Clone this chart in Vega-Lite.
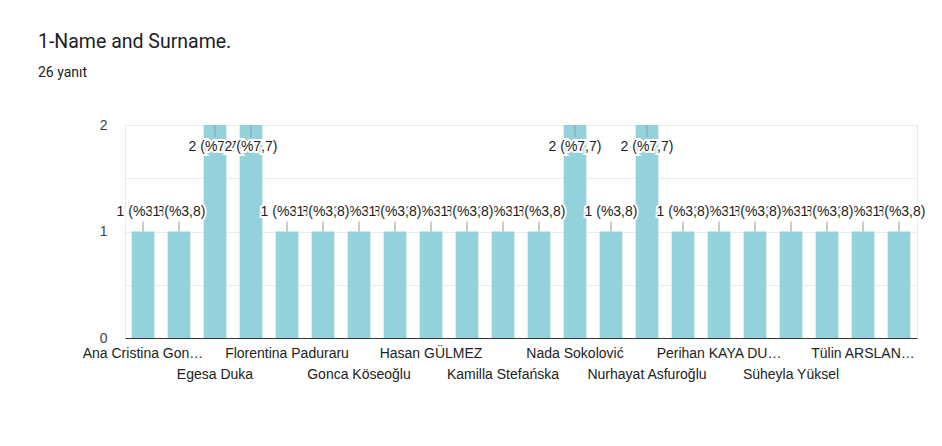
{
  "$schema": "https://vega.github.io/schema/vega-lite/v6.json",
  "autosize": {"type": "none"},
  "width": 792,
  "height": 213,
  "padding": {"left": 125, "top": 125, "right": 25, "bottom": 108},
  "background": "white",
  "title": {
    "text": "1-Name and Surname.",
    "subtitle": "26 yanıt",
    "anchor": "start",
    "frame": "group",
    "dx": -87,
    "offset": 37,
    "font": "Roboto",
    "fontSize": 19.5,
    "fontWeight": "normal",
    "color": "#202124",
    "subtitleFont": "Roboto",
    "subtitleFontSize": 14,
    "subtitleColor": "#202124",
    "subtitlePadding": 14
  },
  "config": {
    "view": {"stroke": "#ebebeb"}
  },
  "data": {
    "values": [
      {"name": "Ana Cristina Gon…", "count": 1, "label": "1 (%3,8)"},
      {"name": "Katılımcı 2", "count": 1, "label": "1 (%3,8)"},
      {"name": "Egesa Duka", "count": 2, "label": "2 (%7,7)"},
      {"name": "Katılımcı 4", "count": 2, "label": "2 (%7,7)"},
      {"name": "Florentina Paduraru", "count": 1, "label": "1 (%3,8)"},
      {"name": "Katılımcı 6", "count": 1, "label": "1 (%3,8)"},
      {"name": "Gonca Köseoğlu", "count": 1, "label": "1 (%3,8)"},
      {"name": "Katılımcı 8", "count": 1, "label": "1 (%3,8)"},
      {"name": "Hasan GÜLMEZ", "count": 1, "label": "1 (%3,8)"},
      {"name": "Katılımcı 10", "count": 1, "label": "1 (%3,8)"},
      {"name": "Kamilla Stefańska", "count": 1, "label": "1 (%3,8)"},
      {"name": "Katılımcı 12", "count": 1, "label": "1 (%3,8)"},
      {"name": "Nada Sokolović", "count": 2, "label": "2 (%7,7)"},
      {"name": "Katılımcı 14", "count": 1, "label": "1 (%3,8)"},
      {"name": "Nurhayat Asfuroğlu", "count": 2, "label": "2 (%7,7)"},
      {"name": "Katılımcı 16", "count": 1, "label": "1 (%3,8)"},
      {"name": "Perihan KAYA DU…", "count": 1, "label": "1 (%3,8)"},
      {"name": "Katılımcı 18", "count": 1, "label": "1 (%3,8)"},
      {"name": "Süheyla Yüksel", "count": 1, "label": "1 (%3,8)"},
      {"name": "Katılımcı 20", "count": 1, "label": "1 (%3,8)"},
      {"name": "Tülin ARSLAN…", "count": 1, "label": "1 (%3,8)"},
      {"name": "Katılımcı 22", "count": 1, "label": "1 (%3,8)"}
    ]
  },
  "transform": [{"window": [{"op": "row_number", "as": "rn"}]}],
  "encoding": {
    "x": {
      "field": "name",
      "type": "nominal",
      "sort": null,
      "scale": {"paddingInner": 0.37, "paddingOuter": 0.185},
      "axis": {
        "title": null,
        "labelAngle": 0,
        "labelExpr": "indexof(domain('x'), datum.value) % 2 == 0 ? datum.label : ''",
        "labelPadding": {"condition": {"test": "indexof(domain('x'), datum.value) % 4 == 2", "value": 29}, "value": 8},
        "labelOverlap": false,
        "labelBound": false,
        "labelLimit": 300,
        "labelFont": "Liberation Sans",
        "labelFontSize": 14,
        "labelColor": "#222222",
        "ticks": false,
        "domainColor": "#333333",
        "domainWidth": 1.2
      }
    },
    "y": {
      "field": "count",
      "type": "quantitative",
      "scale": {"domain": [0, 2], "nice": false},
      "axis": {
        "title": null,
        "values": [0, 0.5, 1, 1.5, 2],
        "labelExpr": "datum.value % 1 == 0 ? format(datum.value, 'd') : ''",
        "labelFont": "Liberation Sans",
        "labelFontSize": 14,
        "labelColor": "#444444",
        "labelPadding": 18,
        "domain": false,
        "ticks": false,
        "gridColor": "#ebebeb"
      }
    }
  },
  "layer": [
    {"mark": {"type": "bar", "color": "#93d2db"}},
    {
      "transform": [{"filter": "datum.count == 1"}],
      "mark": {"type": "rule", "color": "#999999", "strokeWidth": 1, "yOffset": -10},
      "encoding": {"y2": {"field": "count"}}
    },
    {
      "transform": [{"filter": "datum.count == 2"}],
      "mark": {"type": "rule", "color": "#999999", "strokeWidth": 1, "y2Offset": 12},
      "encoding": {"y2": {"field": "count"}}
    },
    {
      "transform": [{"filter": "datum.count == 1 && datum.rn % 2 == 1"}],
      "mark": {"type": "text", "dy": -20, "font": "Liberation Sans", "fontSize": 14, "stroke": "white", "strokeWidth": 4, "fill": "white"},
      "encoding": {"text": {"field": "label"}}
    },
    {
      "transform": [{"filter": "datum.count == 1 && datum.rn % 2 == 1"}],
      "mark": {"type": "text", "dy": -20, "font": "Liberation Sans", "fontSize": 14, "color": "#222222"},
      "encoding": {"text": {"field": "label"}}
    },
    {
      "transform": [{"filter": "datum.count == 1 && datum.rn % 2 == 0"}],
      "mark": {"type": "text", "dy": -20, "font": "Liberation Sans", "fontSize": 14, "stroke": "white", "strokeWidth": 4, "fill": "white"},
      "encoding": {"text": {"field": "label"}}
    },
    {
      "transform": [{"filter": "datum.count == 1 && datum.rn % 2 == 0"}],
      "mark": {"type": "text", "dy": -20, "font": "Liberation Sans", "fontSize": 14, "color": "#222222"},
      "encoding": {"text": {"field": "label"}}
    },
    {
      "transform": [{"filter": "datum.count == 2 && datum.rn % 2 == 1"}],
      "mark": {"type": "text", "dy": 22, "font": "Liberation Sans", "fontSize": 14, "stroke": "white", "strokeWidth": 4, "fill": "white"},
      "encoding": {"text": {"field": "label"}}
    },
    {
      "transform": [{"filter": "datum.count == 2 && datum.rn % 2 == 1"}],
      "mark": {"type": "text", "dy": 22, "font": "Liberation Sans", "fontSize": 14, "color": "#222222"},
      "encoding": {"text": {"field": "label"}}
    },
    {
      "transform": [{"filter": "datum.count == 2 && datum.rn % 2 == 0"}],
      "mark": {"type": "text", "dy": 22, "font": "Liberation Sans", "fontSize": 14, "stroke": "white", "strokeWidth": 4, "fill": "white"},
      "encoding": {"text": {"field": "label"}}
    },
    {
      "transform": [{"filter": "datum.count == 2 && datum.rn % 2 == 0"}],
      "mark": {"type": "text", "dy": 22, "font": "Liberation Sans", "fontSize": 14, "color": "#222222"},
      "encoding": {"text": {"field": "label"}}
    }
  ]
}
